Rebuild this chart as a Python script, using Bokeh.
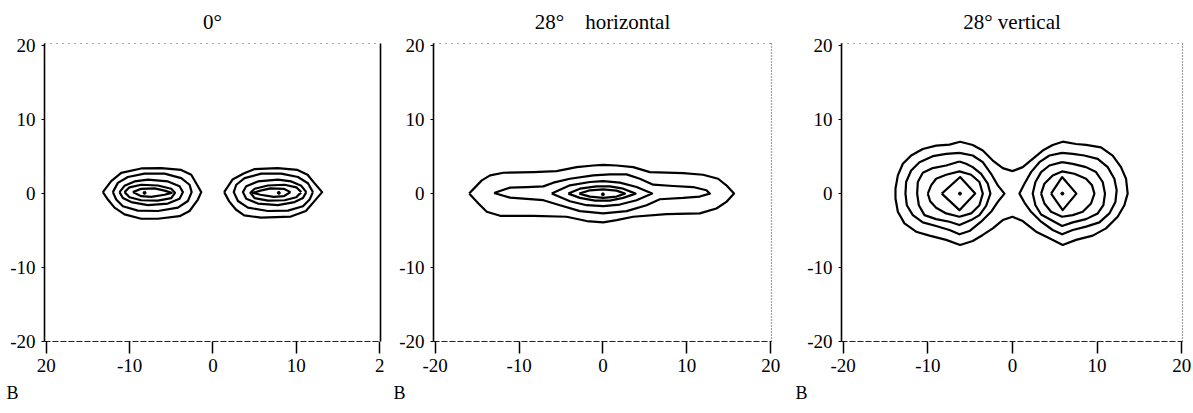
from bokeh.plotting import figure
from bokeh.layouts import row
from bokeh.models import FixedTicker, LinearAxis, Title, Range1d
from bokeh.embed import file_html
from bokeh.resources import INLINE

SERIF = "Liberation Serif"

# ---- text -------------------------------------------------------------
panel_titles = ["0°", "28°\u2003horizontal", "28° vertical"]
panel_tag = "B"
tick_values = [-20, -10, 0, 10, 20]
y_tick_labels = ["-20", "-10", "0", "10", "20"]
x_tick_labels_first = ["20", "-10", "0", "10", "2"]
x_tick_labels = ["-20", "-10", "0", "10", "20"]

# ---- iso-lines, (x, y) in degrees ------------------------------------
# 0°: two separate lobes, five levels each, outermost first
flat_left = [
    [(-13.2, 0.2), (-12.2, 1.7), (-11.0, 2.8), (-8.6, 3.4), (-6.2, 3.45), (-3.8, 3.2), (-2.6, 2.55),
     (-1.8, 1.0), (-1.4, 0.2), (-1.8, -0.8), (-2.8, -2.35), (-4.0, -3.05), (-6.6, -3.4), (-8.6, -3.4),
     (-10.6, -2.8), (-11.8, -1.9), (-12.6, -0.8)],
    [(-12.0, 0.2), (-11.4, 1.45), (-10.2, 2.25), (-8.2, 2.7), (-5.8, 2.7), (-3.8, 2.1), (-2.8, 1.2),
     (-2.55, 0.2), (-3.0, -1.0), (-4.2, -1.9), (-6.6, -2.35), (-9.0, -2.3), (-10.8, -1.7), (-11.6, -0.8)],
    [(-11.2, 0.2), (-10.6, 1.05), (-9.4, 1.65), (-7.8, 1.9), (-5.4, 1.65), (-4.0, 1.0), (-3.6, 0.2),
     (-4.0, -0.7), (-5.4, -1.35), (-7.8, -1.55), (-9.8, -1.15), (-10.8, -0.6)],
    [(-10.6, 0.2), (-10.0, 0.85), (-8.6, 1.2), (-6.6, 1.1), (-5.0, 0.65), (-4.55, 0.1), (-5.0, -0.6),
     (-6.6, -0.95), (-8.6, -0.9), (-10.0, -0.5)],
    [(-9.6, 0.2), (-8.6, 0.65), (-7.0, 0.7), (-5.8, 0.4), (-4.95, 0.1), (-5.8, -0.15), (-7.4, -0.45),
     (-8.6, -0.35)],
]
flat_right = [
    [(1.35, 0.2), (2.35, 1.9), (3.75, 2.75), (4.95, 3.3), (7.75, 3.45), (10.15, 3.2), (11.35, 2.55),
     (12.15, 1.45), (13.1, 0.2), (12.15, -1.05), (11.15, -2.35), (9.35, -3.1), (5.75, -3.25),
     (3.75, -2.95), (2.75, -2.15), (1.95, -1.05)],
    [(12.0, 0.2), (11.4, 1.4), (10.2, 2.25), (8.2, 2.7), (5.8, 2.7), (3.8, 2.1), (2.8, 1.2), (2.5, 0.2),
     (3.0, -1.0), (4.2, -1.9), (6.6, -2.35), (9.0, -2.3), (10.8, -1.7), (11.6, -0.8)],
    [(11.2, 0.2), (10.6, 1.05), (9.4, 1.65), (7.8, 1.9), (5.4, 1.65), (4.0, 1.0), (3.6, 0.2),
     (4.0, -0.7), (5.4, -1.35), (7.8, -1.55), (9.8, -1.15), (10.8, -0.6)],
    [(10.6, 0.2), (10.0, 0.85), (8.6, 1.2), (6.6, 1.1), (5.0, 0.65), (4.5, 0.1), (5.0, -0.6),
     (6.6, -0.95), (8.6, -0.9), (10.0, -0.5)],
    [(9.3, 0.2), (8.5, 0.65), (6.9, 0.7), (5.7, 0.4), (4.8, 0.1), (5.7, -0.15), (7.3, -0.45),
     (8.5, -0.35)],
]
flat_peaks = [(-8.2, 0.1), (7.9, 0.1)]

# 28° horizontal: one elongated lobe
horiz_lobe = [
    [(-15.95, 0.0), (-14.44, 1.79), (-13.45, 2.46), (-11.87, 2.82), (-8.29, 2.91), (-5.52, 3.04),
     (-3.13, 3.58), (-1.15, 3.8), (0.04, 3.89), (1.63, 3.8), (3.61, 3.58), (5.6, 2.91), (9.56, 2.77),
     (11.94, 2.55), (13.73, 2.01), (14.72, 1.12), (15.63, 0.0), (14.72, -1.12), (13.53, -2.01),
     (11.55, -2.68), (7.58, -2.77), (3.61, -3.13), (1.63, -3.58), (0.04, -3.89), (-1.94, -3.71),
     (-4.33, -3.13), (-8.29, -3.0), (-12.26, -3.0), (-13.85, -2.46), (-14.84, -1.34)],
    [(-12.98, 0.09), (-11.07, 0.81), (-9.09, 0.89), (-7.1, 0.98), (-5.91, 1.48), (-3.93, 2.01),
     (-1.15, 2.46), (0.83, 2.6), (2.82, 2.6), (4.4, 2.01), (5.99, 1.21), (8.37, 1.03), (10.75, 0.89),
     (12.34, 0.45), (12.74, 0.0), (11.55, -0.4), (9.56, -0.58), (6.79, -0.76), (5.2, -1.57),
     (2.82, -2.37), (0.04, -2.68), (-2.74, -2.37), (-5.12, -1.57), (-7.1, -0.89), (-11.07, -0.54)],
    [(-6.11, 0.0), (-3.93, 1.12), (-1.55, 1.57), (0.04, 1.7), (2.02, 1.48), (4.01, 0.89), (5.87, 0.0),
     (4.01, -0.89), (2.02, -1.48), (0.04, -1.7), (-1.94, -1.57), (-3.93, -1.03)],
    [(-4.13, 0.0), (-2.74, 0.67), (-0.75, 0.98), (0.83, 0.98), (2.42, 0.67), (3.89, 0.0), (2.42, -0.58),
     (0.83, -0.94), (-0.95, -0.94), (-2.74, -0.58)],
    [(-2.82, 0.0), (-1.55, 0.45), (0.04, 0.58), (1.63, 0.4), (2.62, 0.0), (1.63, -0.4), (0.04, -0.58),
     (-1.55, -0.4)],
]
horiz_peaks = [(0.0, -0.1)]

# 28° vertical: joint outer level, then four levels per lobe
vert_outer = [
    [(0.0, 3.04), (-1.14, 3.45), (-2.32, 4.47), (-3.5, 5.82), (-4.69, 6.58), (-6.18, 7.02),
     (-7.44, 6.62), (-9.02, 6.49), (-10.59, 6.04), (-11.97, 5.15), (-12.95, 4.03), (-13.54, 2.46),
     (-13.82, 0.67), (-13.82, -0.67), (-13.54, -2.46), (-12.76, -4.03), (-11.38, -5.15), (-9.8, -5.68),
     (-7.83, -6.26), (-6.18, -6.94), (-4.69, -6.4), (-3.5, -5.59), (-2.32, -4.7), (-1.14, -3.58),
     (0.0, -3.13), (1.22, -3.71), (2.8, -5.15), (4.37, -6.04), (5.94, -6.94), (7.52, -6.26),
     (9.49, -5.68), (11.06, -4.7), (12.44, -3.13), (13.23, -1.57), (13.62, 0.0), (13.43, 2.01),
     (12.83, 3.58), (11.85, 5.15), (10.47, 6.26), (8.7, 6.58), (7.52, 6.71), (5.94, 7.02),
     (4.76, 6.58), (3.58, 5.82), (2.4, 4.7), (1.22, 3.58)],
]
vert_left = [
    [(-6.26, 5.5), (-7.83, 5.37), (-9.41, 5.06), (-10.98, 4.25), (-11.97, 3.13), (-12.56, 1.57),
     (-12.64, 0.0), (-12.48, -1.57), (-11.77, -2.91), (-10.59, -3.89), (-9.02, -4.38), (-7.44, -4.92),
     (-6.26, -5.5), (-5.08, -5.06), (-3.7, -3.8), (-2.52, -2.46), (-1.73, -1.12), (-0.94, 0.0),
     (-1.73, 1.12), (-2.52, 2.68), (-3.5, 4.25), (-4.69, 5.15)],
    [(-6.26, 4.34), (-7.83, 3.8), (-9.41, 3.45), (-10.59, 2.82), (-11.18, 1.57), (-11.26, 0.0),
     (-11.06, -1.57), (-10.39, -2.91), (-9.02, -3.45), (-7.44, -3.8), (-6.26, -4.25), (-4.88, -3.58),
     (-3.9, -2.91), (-3.11, -1.66), (-2.6, 0.0), (-2.91, 1.34), (-3.7, 2.68), (-4.69, 3.58),
     (-5.47, 4.03)],
    [(-10.0, 0.0), (-9.61, 1.12), (-9.02, 2.01), (-7.83, 2.55), (-6.26, 3.0), (-4.88, 2.55),
     (-3.9, 1.57), (-3.5, 0.0), (-3.9, -1.57), (-4.88, -2.68), (-6.26, -3.13), (-7.83, -2.68),
     (-9.02, -1.92), (-9.72, -1.03)],
    [(-8.35, 0.0), (-6.18, 2.24), (-4.4, 0.0), (-6.26, -2.24)],
]
vert_right = [
    [(5.87, 5.5), (4.37, 5.15), (3.19, 4.25), (2.2, 2.91), (1.42, 1.34), (0.83, 0.0), (1.42, -1.21),
     (2.2, -2.46), (3.39, -3.8), (4.76, -4.92), (5.87, -5.5), (7.13, -4.92), (8.7, -4.47),
     (10.28, -3.89), (11.46, -2.68), (12.17, -1.12), (12.32, 0.45), (12.05, 2.01), (11.26, 3.58),
     (10.08, 4.7), (8.5, 5.15), (7.13, 5.37)],
    [(5.87, 4.25), (4.37, 3.8), (3.39, 2.91), (2.72, 1.57), (2.4, 0.0), (2.72, -1.57), (3.39, -2.82),
     (4.57, -3.58), (5.87, -4.38), (7.13, -3.89), (8.7, -3.45), (10.08, -2.68), (10.75, -1.57),
     (10.94, 0.0), (10.67, 1.57), (9.88, 2.91), (8.7, 3.58), (7.13, 4.03)],
    [(3.39, 0.0), (3.78, 1.34), (4.76, 2.46), (5.87, 3.0), (7.32, 2.68), (8.7, 2.01), (9.41, 1.12),
     (9.69, 0.0), (9.29, -1.34), (8.31, -2.46), (7.13, -2.91), (5.87, -3.13), (4.57, -2.46),
     (3.78, -1.34)],
    [(4.57, 0.0), (5.87, 2.24), (7.56, 0.0), (5.94, -2.24)],
]
vert_peaks = [(-6.2, 0.0), (5.9, 0.0)]


def make_panel(title, x_labels, groups, peaks, frame_w, border_l, border_r,
               right_solid, tag_offset):
    p = figure(frame_width=frame_w, frame_height=298,
               x_range=Range1d(-20.2, 20.1), y_range=Range1d(-20.0, 20.3),
               min_border_left=border_l, min_border_right=border_r,
               min_border_top=43, min_border_bottom=72,
               toolbar_location=None, output_backend="svg",
               background_fill_color="white", border_fill_color="white")
    p.outline_line_color = None
    p.grid.visible = False

    p.title.text = title
    p.title.align = "center"
    p.title.vertical_align = "top"
    p.title.text_font = SERIF
    p.title.text_font_size = "21px"
    p.title.text_font_style = "normal"
    p.title.text_color = "black"
    p.title.standoff = 16

    xa = p.xaxis[0]
    xa.ticker = FixedTicker(ticks=tick_values)
    xa.major_label_overrides = {v: s for v, s in zip(tick_values, x_labels)}
    xa.major_tick_out = 12
    xa.major_tick_in = 0
    xa.major_tick_line_width = 1.5
    xa.minor_tick_line_color = None
    xa.axis_line_dash = "6 2"
    xa.axis_line_width = 1.2
    xa.axis_line_color = "#222222"
    xa.major_label_standoff = 5
    xa.major_label_text_font = SERIF
    xa.major_label_text_font_size = "19px"
    xa.major_label_text_color = "black"

    ya = p.yaxis[0]
    ya.ticker = FixedTicker(ticks=tick_values)
    ya.major_label_overrides = {v: s for v, s in zip(tick_values, y_tick_labels)}
    ya.major_tick_out = 3
    ya.major_tick_in = 0
    ya.minor_tick_line_color = None
    ya.axis_line_width = 1.6
    ya.axis_line_color = "black"
    ya.major_label_standoff = 6
    ya.major_label_text_font = SERIF
    ya.major_label_text_font_size = "19px"
    ya.major_label_text_color = "black"

    top = LinearAxis(ticker=FixedTicker(ticks=[]), axis_line_dash="1 5",
                     axis_line_color="#555555", axis_line_width=1.2)
    p.add_layout(top, "above")
    if right_solid:
        right = LinearAxis(ticker=FixedTicker(ticks=[]), axis_line_color="black",
                           axis_line_width=1.6)
    else:
        right = LinearAxis(ticker=FixedTicker(ticks=[]), axis_line_dash="1 2",
                           axis_line_color="#444444", axis_line_width=1.2)
    p.add_layout(right, "right")

    # panel tag under the x axis, sitting at the bottom of its strip
    p.add_layout(Title(text=panel_tag, align="left", offset=tag_offset, vertical_align="bottom",
                       text_font=SERIF, text_font_size="18px", text_font_style="normal",
                       text_color="black", standoff=13), "below")

    for levels in groups:
        xs = [[pt[0] for pt in lev] + [lev[0][0]] for lev in levels]
        ys = [[pt[1] for pt in lev] + [lev[0][1]] for lev in levels]
        p.multi_line(xs, ys, line_color="black", line_width=2.2, line_join="round")

    p.scatter([pt[0] for pt in peaks], [pt[1] for pt in peaks], size=3,
              color="black", marker="circle")
    return p


p1 = make_panel(panel_titles[0], x_tick_labels_first, [flat_left, flat_right], flat_peaks,
                336, 44, 12, True, -38)
p2 = make_panel(panel_titles[1], x_tick_labels, [horiz_lobe], horiz_peaks,
                338, 41, 20, False, -40)
p3 = make_panel(panel_titles[2], x_tick_labels, [vert_outer, vert_left, vert_right], vert_peaks,
                341, 50, 11, False, -46)

layout = row(p1, p2, p3, spacing=0)
open("out.html", "w").write(file_html(layout, INLINE))
